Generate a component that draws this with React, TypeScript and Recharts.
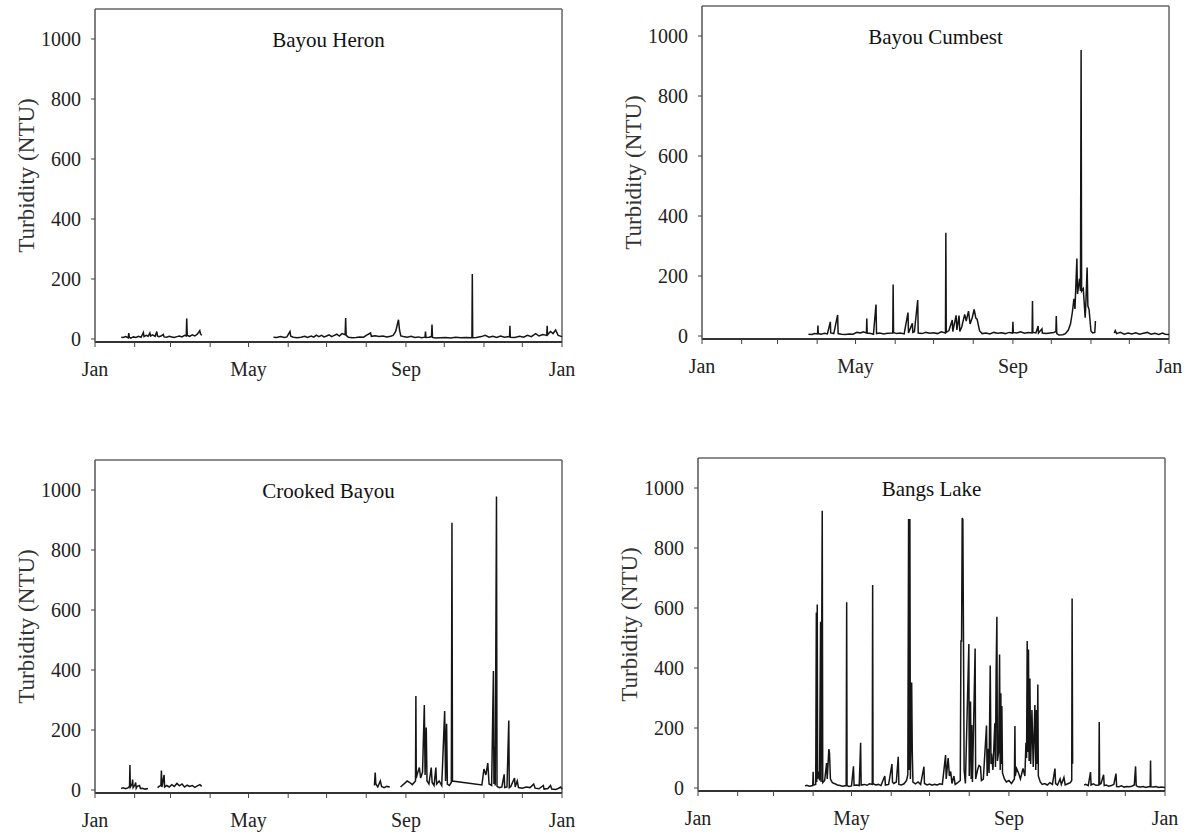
import { LineChart, Line, XAxis, YAxis, ReferenceLine } from "recharts";

// x = day of year (0 = 1 Jan), y = turbidity in NTU; null marks a gap in the record
const MONTH_STARTS = [0, 31, 59, 90, 120, 151, 181, 212, 243, 273, 304, 334, 365];
const MONTH_LABELS: Record<number, string> = { 0: "Jan", 120: "May", 243: "Sep", 365: "Jan" };
const NTU_TICKS = [0, 200, 400, 600, 800, 1000];

const bayouHeron: [number, number | null][] = [
  [20.5, 6], [22, 5], [24, 8], [26, 4], [26.4, 20], [26.8, 6], [28, 3], [30, 7], [32, 5], [34, 9],
  [36, 6], [37.8, 22], [38.3, 8], [40, 12], [41.5, 9], [42.9, 20], [43.4, 10], [45, 14], [47, 9],
  [48.3, 25], [48.8, 10], [50, 8], [52, 11], [53.4, 15], [54, 7], [56, 6], [58, 9], [60, 7], [62, 5],
  [64, 8], [66, 10], [68, 7], [70, 12], [71.3, 10], [71.7, 68], [72.1, 12], [74, 9], [76, 14], [78, 10],
  [80, 16], [81.9, 28], [82.4, 18], [83.4, 12], [83.5, null],
  [139.5, 6], [142, 5], [145, 8], [148, 5], [150, 7], [152.4, 25], [153, 9], [155, 6], [158, 4], [161, 6],
  [164, 9], [166, 5], [169, 10], [171, 6], [173, 13], [175, 8], [177, 12], [179, 7], [181, 10], [183, 14],
  [185, 8], [187, 12], [189, 16], [191, 10], [193, 18], [195.5, 14], [195.9, 70], [196.3, 12], [198, 6],
  [201, 4], [204, 5], [207, 7], [210, 6], [212, 12], [215.4, 20], [216, 9], [219, 11], [222, 8], [225, 10],
  [228, 7], [231, 9], [233, 12], [235, 25], [236.4, 50], [237.2, 64], [238, 30], [239, 10], [241, 8],
  [244, 6], [247, 9], [250, 5], [253, 7], [255, 4], [257.9, 6], [258.3, 25], [258.7, 5], [261, 6],
  [263, 8], [263.4, 48], [263.8, 5], [266, 3], [270, 4], [274, 5], [278, 3], [282, 6], [286, 4], [290, 5],
  [294.6, 4], [294.9, 217], [295.2, 4], [298, 5], [302, 8], [305, 12], [308, 6], [311, 9], [314, 5],
  [317, 10], [320, 6], [324, 8], [324.3, 44], [324.6, 6], [328, 5], [332, 9], [335, 6], [338, 12],
  [341, 8], [344.4, 18], [347, 10], [350, 15], [353.1, 12], [353.4, 44], [353.7, 14], [356, 25],
  [358, 18], [360, 30], [362, 12], [365, 8],
];

const bayouCumbest: [number, number | null][] = [
  [83.2, 6], [86, 5], [88, 8], [90.3, 7], [90.6, 35], [90.9, 8], [93, 6], [96, 9], [98, 7], [100.3, 47],
  [100.6, 10], [103, 8], [106, 70], [106.4, 8], [109, 6], [112, 5], [115, 7], [118, 6], [121, 12],
  [124, 10], [126, 14], [128.5, 10], [128.8, 58], [129.1, 10], [132, 8], [134, 6], [136, 105],
  [136.4, 8], [139, 10], [142, 7], [145, 9], [149.1, 10], [149.4, 172], [149.7, 12], [152, 8],
  [155, 10], [158, 7], [161, 78], [161.4, 10], [164.4, 42], [164.8, 12], [166, 14], [168.6, 120],
  [169, 10], [172, 8], [175, 12], [178, 9], [181, 11], [184, 8], [187, 14], [190.3, 10], [190.6, 344],
  [190.9, 12], [193, 18], [195.6, 53], [196, 15], [198.6, 69], [199.2, 20], [200.9, 68], [201.5, 15],
  [203, 30], [205.3, 72], [206.5, 50], [208.3, 83], [209.5, 40], [211.2, 61], [212.7, 89], [214, 60],
  [215, 56], [217, 17], [219, 8], [222, 10], [225, 7], [228, 12], [231, 9], [234, 11], [237, 8],
  [240, 12], [242.7, 10], [243, 47], [243.3, 12], [246, 10], [249, 14], [252, 9], [255, 12], [258, 10],
  [258.3, 117], [258.6, 12], [261, 10], [262.7, 33], [263, 10], [265.7, 24], [266, 10], [269, 8],
  [272, 10], [275, 12], [276.6, 15], [276.9, 67], [277.3, 8], [279, 3], [282, 4], [284, 8], [286.3, 20],
  [288, 40], [289.5, 80], [290.7, 124], [291.5, 90], [293, 258], [293.5, 140], [295.1, 191],
  [295.8, 150], [296.3, 953], [296.7, 150], [298, 158], [299.5, 61], [300.1, 117], [301, 228],
  [301.6, 100], [302.5, 89], [304, 17], [305.4, 10], [307, 12], [307.5, 50], [307.8, null],
  [322.2, 10], [323, 18], [324, 8], [327, 12], [330, 6], [333, 10], [336, 7], [339, 11], [342, 6],
  [345, 9], [348, 12], [351, 6], [354, 9], [357, 5], [360, 10], [362, 6], [365, 5],
];

const crookedBayou: [number, number | null][] = [
  [20.4, 5], [22, 7], [24, 4], [26, 8], [27, 12], [27.3, 83], [27.6, 10], [29, 20], [29.4, 35], [29.8, 8],
  [31, 15], [31.8, 25], [32.2, 6], [33, 12], [34.8, 15], [35.5, 5], [37, 6], [39, 3], [41.4, 5], [41.5, null],
  [48.9, 8], [50, 12], [51.5, 15], [51.9, 65], [52.3, 10], [54, 50], [54.4, 10], [56, 15], [58, 10],
  [60, 18], [62, 12], [64, 22], [66, 14], [68, 20], [70, 10], [72, 16], [74, 12], [76, 15], [78, 9],
  [80, 14], [82, 18], [83.4, 12], [83.5, null],
  [218.4, 15], [219, 58], [219.5, 20], [221, 10], [223, 30], [224, 12], [226, 8], [228, 12], [230.4, 10],
  [230.5, null],
  [238.8, 10], [240, 15], [242, 22], [244, 30], [246, 25], [248, 18], [250.5, 30], [250.8, 313],
  [251.1, 40], [252, 55], [253.5, 75], [254.5, 40], [256, 60], [257.4, 283], [258, 50], [258.9, 208],
  [259.5, 30], [261, 20], [262.8, 75], [263.5, 25], [265, 15], [266.4, 75], [267, 20], [269, 30],
  [271, 15], [273.3, 263], [274, 30], [274.8, 221], [275.4, 20], [277, 15], [278.5, 25], [279, 891],
  [279.4, 30], [302.4, 17], [304, 70], [305.5, 50], [307, 90], [308, 20], [310, 15], [311.4, 397],
  [311.8, 20], [312.3, 143], [312.8, 15], [313.8, 978], [314.2, 12], [316, 8], [318, 10], [319.8, 52],
  [320.2, 8], [322, 10], [323.4, 232], [323.8, 8], [325, 12], [327.9, 40], [328.4, 10], [330, 30],
  [331, 8], [334, 6], [337, 10], [340, 8], [342.9, 20], [344, 6], [347, 4], [350.4, 15], [351, 3],
  [354, 5], [356, 15], [357, 3], [360, 2], [362, 5], [364, 10], [365, 3],
];

const bangsLake: [number, number | null][] = [
  [83.6, 7], [85, 9], [87, 6], [89.7, 8], [90, 54], [90.3, 10], [92, 12], [92.5, 585], [92.8, 20],
  [93.2, 612], [93.5, 30], [94.3, 55], [95, 25], [95.8, 554], [96.2, 20], [97.1, 924], [97.5, 18],
  [99, 25], [100.5, 83], [101, 30], [102.3, 130], [102.8, 115], [103.5, 30], [105, 18], [107, 14],
  [109, 10], [111, 8], [113, 6], [115.8, 8], [116.2, 619], [116.5, 8], [118, 5], [120, 7], [121.5, 72],
  [122, 9], [124, 10], [126, 8], [127.1, 151], [127.5, 10], [130, 12], [132, 9], [134, 14], [136.2, 12],
  [136.5, 677], [136.8, 14], [139, 10], [141, 12], [143, 8], [146, 40], [146.5, 10], [149, 12],
  [151.6, 80], [152, 20], [153, 15], [155, 20], [156.5, 104], [157, 12], [159, 10], [161, 14], [163, 25],
  [164, 45], [164.6, 897], [165, 60], [165.6, 897], [166, 30], [167, 352], [167.5, 117], [168, 20],
  [170, 14], [172, 20], [174, 12], [176.6, 71], [177, 15], [179, 10], [181, 13], [183, 9], [185, 12],
  [187, 10], [189, 14], [191, 12], [193.5, 110], [194, 30], [195.5, 100], [196.5, 40], [197.5, 55],
  [198.5, 15], [200, 40], [201, 12], [203, 18], [205, 25], [205.5, 490], [206, 490], [206.5, 900],
  [207, 895], [207.5, 495], [208, 60], [209, 15], [211.7, 480], [212, 40], [213, 288], [213.5, 30],
  [214, 210], [214.5, 20], [216.6, 465], [217, 30], [218.5, 60], [219.6, 75], [220.8, 71], [221.5, 25],
  [223, 30], [225.5, 208], [226, 40], [226.8, 131], [227.5, 50], [228.4, 408], [229, 80], [229.4, 115],
  [230.5, 60], [232, 216], [232.5, 70], [233, 383], [233.6, 571], [234, 90], [235, 120], [235.7, 445],
  [236.2, 60], [236.7, 316], [237.1, 80], [237.5, 273], [238, 50], [239.5, 30], [241, 20], [243, 25],
  [245, 15], [247.3, 30], [247.7, 207], [248, 40], [249, 65], [250.5, 50], [252, 30], [254, 65],
  [255.5, 40], [256.3, 151], [256.8, 100], [257.3, 490], [257.8, 120], [258.3, 462], [258.8, 90],
  [259.4, 365], [260, 80], [261, 260], [262, 70], [263.3, 277], [264, 60], [264.6, 260], [265.1, 80],
  [265.6, 345], [266, 40], [267.5, 20], [269, 12], [271, 15], [273, 10], [275, 18], [277, 12],
  [279, 65], [279.5, 15], [281, 10], [283, 30], [284, 12], [286, 35], [287, 10], [289, 14], [291, 18],
  [292.1, 25], [292.4, 632], [292.8, 81], [293, null],
  [301.8, 10], [303, 12], [305, 8], [306.8, 53], [307.2, 10], [309, 14], [311, 9], [313.3, 10],
  [313.6, 220], [313.9, 12], [315, 15], [317, 44], [317.5, 8], [319, 10], [321, 6], [323, 8], [325, 12],
  [326.7, 48], [327.2, 5], [329, 4], [331, 7], [333, 3], [335, 5], [337, 4], [339, 6], [341, 10],
  [342, 72], [342.5, 8], [344, 4], [346, 3], [348, 5], [350, 2], [352, 4], [353.4, 5], [353.7, 92],
  [354, 4], [356, 3], [358, 5], [360, 2], [362, 3], [365, 2],
];

const FONT = "Liberation Serif";
const INK = "#222";

type Box = { x: number; y: number; width: number; height: number };

// rotated y-axis title, drawn inside the axis box Recharts hands us
function YTitle({ viewBox }: { viewBox?: Box }) {
  if (!viewBox) return null;
  const cx = viewBox.x + 26;
  const cy = viewBox.y + viewBox.height / 2;
  return (
    <text
      x={cx}
      y={cy}
      transform={`rotate(-90, ${cx}, ${cy})`}
      textAnchor="middle"
      dominantBaseline="central"
      fontFamily={FONT}
      fontSize={23}
      fill="#333"
    >
      Turbidity (NTU)
    </text>
  );
}

// site name, centred under the top border of the frame
function SiteTitle({ viewBox, text }: { viewBox?: Box; text: string }) {
  if (!viewBox) return null;
  return (
    <text
      x={viewBox.x + viewBox.width / 2}
      y={viewBox.y + 31}
      textAnchor="middle"
      dominantBaseline="central"
      fontFamily={FONT}
      fontSize={21}
      fill="#111"
    >
      {text}
    </text>
  );
}

function Panel({ title, series }: { title: string; series: [number, number | null][] }) {
  const data = series.map(([day, ntu]) => ({ day, ntu }));
  return (
    <LineChart width={582} height={390} data={data} margin={{ top: 10, right: 20, bottom: 2, left: 0 }}>
      <XAxis
        dataKey="day"
        type="number"
        domain={[0, 365]}
        ticks={MONTH_STARTS}
        interval={0}
        tickFormatter={(d: number) => MONTH_LABELS[d] ?? ""}
        height={45}
        tickSize={5}
        tickMargin={15}
        axisLine={{ stroke: "#333", strokeWidth: 2 }}
        tickLine={{ stroke: "#444" }}
        tick={{ fill: INK, fontSize: 20, fontFamily: FONT }}
      />
      <YAxis
        type="number"
        domain={[-10, 1100]}
        ticks={NTU_TICKS}
        interval={0}
        allowDataOverflow
        width={95}
        tickSize={4}
        tickMargin={10}
        axisLine={{ stroke: "#555", strokeWidth: 1.5 }}
        tickLine={{ stroke: "#444" }}
        tick={{ fill: INK, fontSize: 20, fontFamily: FONT }}
        label={<YTitle />}
      />
      <ReferenceLine y={1100} stroke="#666" strokeWidth={1.5} label={<SiteTitle text={title} />} />
      <ReferenceLine x={365} stroke="#666" strokeWidth={1.5} />
      <Line
        dataKey="ntu"
        type="linear"
        stroke="#151515"
        strokeWidth={1.5}
        dot={false}
        connectNulls={false}
        isAnimationActive={false}
      />
    </LineChart>
  );
}

const PANELS = [
  { title: "Bayou Heron", series: bayouHeron, left: 0, top: -1 },
  { title: "Bayou Cumbest", series: bayouCumbest, left: 607, top: -4 },
  { title: "Crooked Bayou", series: crookedBayou, left: 0, top: 450 },
  { title: "Bangs Lake", series: bangsLake, left: 603, top: 448 },
];

export default function App() {
  return (
    <div style={{ position: "absolute", left: 0, top: 0, width: 1187, height: 840, background: "#fff" }}>
      {PANELS.map((p) => (
        <div key={p.title} style={{ position: "absolute", left: p.left, top: p.top }}>
          <Panel title={p.title} series={p.series} />
        </div>
      ))}
    </div>
  );
}
